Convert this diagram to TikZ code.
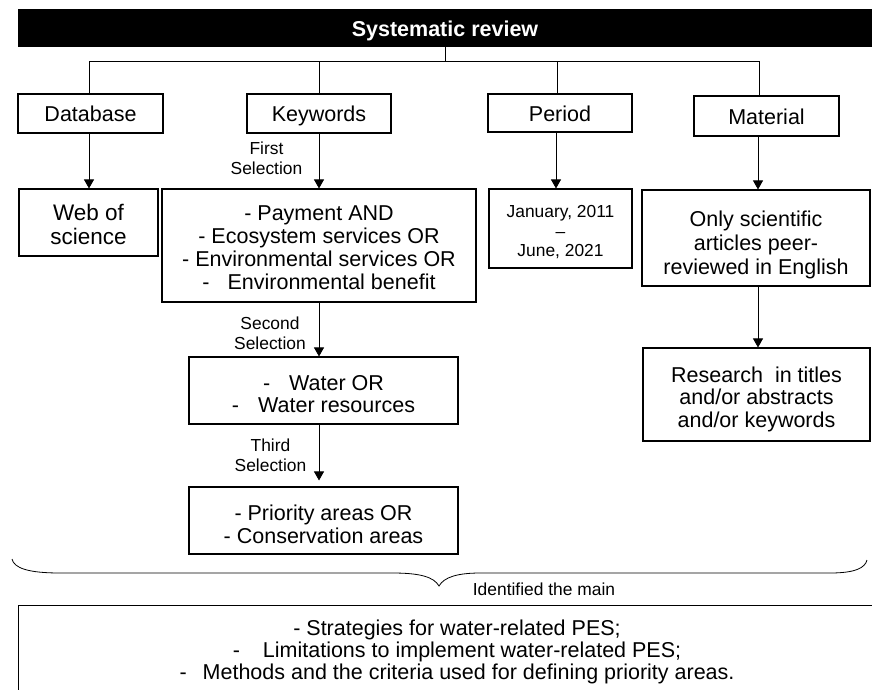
\documentclass[tikz,border=0pt]{standalone}
\usepackage{fontspec}
\setmainfont{Liberation Sans}
\usetikzlibrary{arrows.meta}
\tikzset{
  box/.style={draw, line width=1.1pt, inner sep=0pt, fill=white},
  big/.style={font=\fontsize{21.5}{23}\selectfont, align=center, inner sep=0pt},
  small/.style={font=\fontsize{17.4}{19.5}\selectfont, align=center, inner sep=0pt},
  oneline/.style={text height=18pt, text depth=1.5pt},
  link/.style={line width=0.8pt},
  arr/.style={line width=0.8pt, -{Triangle[width=10pt,length=9pt]}},
}
\begin{document}
\begin{tikzpicture}[x=1pt,y=-1pt]
\clip (0,0) rectangle (872,689);
\fill[white] (0,0) rectangle (872,689);

% title bar
\node[fill=black, minimum width=854pt, minimum height=38pt, inner sep=0pt, text=white,
      oneline, font=\bfseries\fontsize{21.5}{24}\selectfont] (sr) at (445,28) {Systematic review};

% first level
\node[box, big, oneline, minimum width=145pt, minimum height=39pt] (db) at (90.5,113.5) {Database};
\node[box, big, oneline, minimum width=144pt, minimum height=39pt] (kw) at (319,113.5) {Keywords};
\node[box, big, oneline, minimum width=144pt, minimum height=38pt] (per) at (560,113) {Period};
\node[box, big, oneline, minimum width=145pt, minimum height=40pt] (mat) at (766.5,116) {Material};

% second level boxes
\node[box, minimum width=139pt, minimum height=67pt] (web) at (88.5,222.5) {};
\node[big, font=\fontsize{22.5}{24}\selectfont] (webt) at (88.5,224) {Web of\\science};

\node[box, minimum width=314pt, minimum height=113pt] (sel1) at (319,245.5) {};
\node[big] (sel1t) at (319,248) {- Payment AND\\- Ecosystem services OR\\- Environmental services OR\\-\hspace{18pt}Environmental benefit};

\node[box, minimum width=143pt, minimum height=79pt] (dates) at (560.5,228.5) {};
\node[small] (datest) at (560.5,232.5) {January, 2011\\--\\June, 2021};

\node[box, minimum width=228pt, minimum height=96pt] (sci) at (756,238) {};
\node[big, font=\fontsize{21.5}{24}\selectfont] (scit) at (756,245) {Only scientific\\articles peer-\\reviewed in English};

\node[box, minimum width=227pt, minimum height=93pt] (res) at (756.5,394.5) {};
\node[big, font=\fontsize{21.5}{22.5}\selectfont] (rest) at (756.5,399) {Research\ \ in titles\\and/or abstracts\\and/or keywords};

\node[box, minimum width=269pt, minimum height=67pt] (sel2) at (323.5,390.5) {};
\node[big, font=\fontsize{21.5}{22}\selectfont] (sel2t) at (323.5,394) {-\hspace{19pt}Water OR\\-\hspace{19pt}Water resources};

\node[box, minimum width=269pt, minimum height=67pt] (sel3) at (323.5,520.5) {};
\node[big] (sel3t) at (323.5,524.5) {- Priority areas OR\\- Conservation areas};

% selection labels
\node[small] (lab1) at (266.5,158.5) {First\\Selection};
\node[small] (lab2) at (270,333.5) {Second\\Selection};
\node[small] (lab3) at (270.5,455.5) {Third\\Selection};

% tree connectors
\coordinate (hub) at (445,61);
\draw[link] (sr.south) -- (hub);
\draw[link] ([xshift=-1.5pt]db.north) |- ([xshift=-7.5pt]mat.north |- hub) -- ([xshift=-7.5pt]mat.north);
\draw[link] (kw.north) -- (kw.north |- hub);
\draw[link] ([xshift=-3pt]per.north) -- ([xshift=-3pt]per.north |- hub);

% arrows
\draw[arr] ([xshift=-1.5pt]db.south) -- ([xshift=-1.5pt]db.south |- web.north);
\draw[arr] (kw.south) -- (kw.south |- sel1.north);
\draw[arr] ([xshift=-4pt]per.south) -- ([xshift=-4pt]per.south |- dates.north);
\draw[arr] ([xshift=-8.5pt]mat.south) -- ([xshift=-8.5pt]mat.south |- sci.north);
\draw[arr] ([xshift=2pt]sci.south) -- ([xshift=2pt]sci.south |- res.north);
\draw[arr] (sel1.south) -- (sel1.south |- sel2.north);
\draw[arr, shorten >=6pt] ([xshift=-4.5pt]sel2.south) -- ([xshift=-4.5pt]sel2.south |- sel3.north);

% brace
\draw[line width=0.8pt] (12,559) .. controls (14,568) and (28,573) .. (60,573)
  -- (393,573) .. controls (420,573) and (434,577) .. (439,586)
  .. controls (444,577) and (458,573) .. (480,573)
  -- (830,573) .. controls (855,573) and (865,568) .. (867,560);
\node[small] (ident) at (544,589) {Identified the main};

% outcome box
\node[box, anchor=north west, minimum width=880pt, minimum height=120pt] (out) at (18,605) {};
\node[big, font=\fontsize{21.5}{22}\selectfont] (outt) at (457,652) {- Strategies for water-related PES;\\-\hspace{23pt}Limitations to implement water-related PES;\\-\hspace{16pt}Methods and the criteria used for defining priority areas.};
\end{tikzpicture}
\end{document}
